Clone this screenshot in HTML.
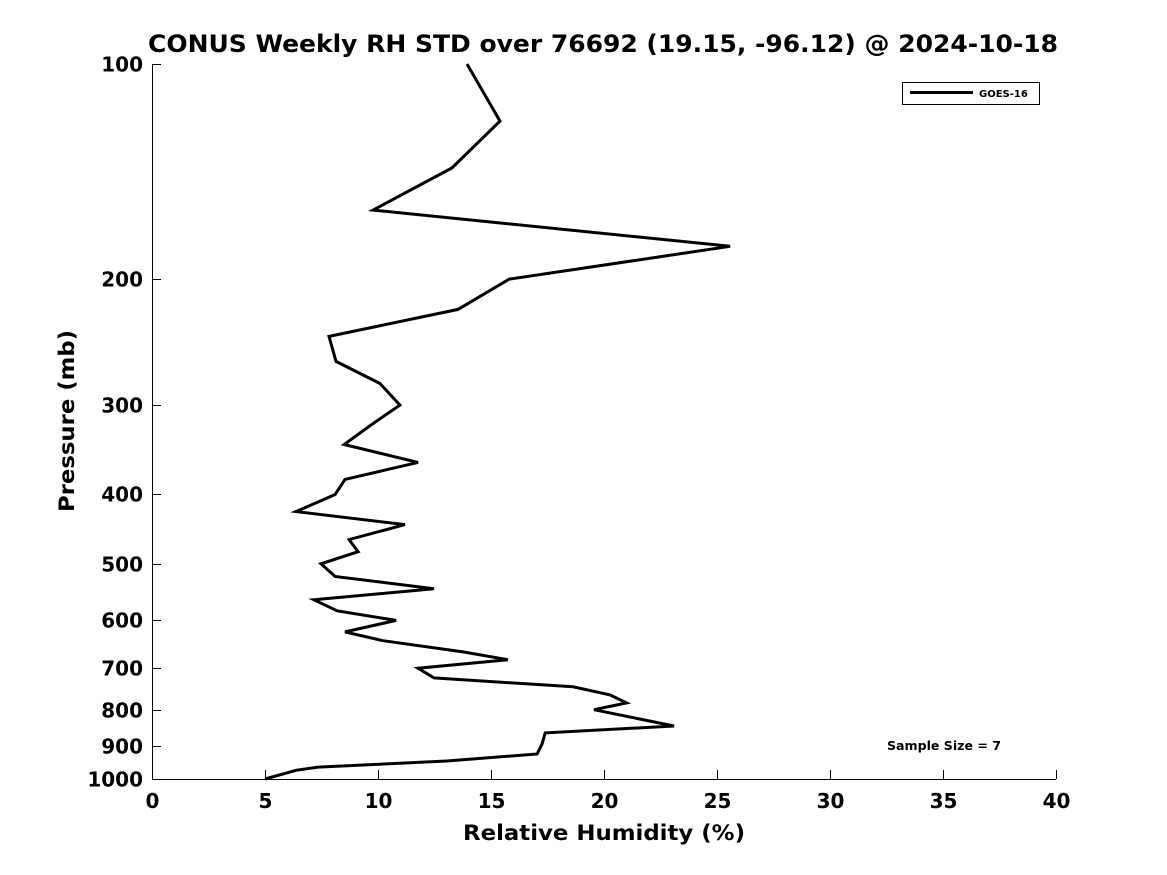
<!DOCTYPE html>
<html><head><meta charset="utf-8"><style>
body{margin:0;background:#fff;}
svg{display:block;font-family:"DejaVu Sans","Liberation Sans",sans-serif;}
</style></head><body>
<svg id="chart" width="1167" height="875">
<rect width="1167" height="875" fill="#fff"/>
<text x="603" y="52" text-anchor="middle" font-size="24" font-weight="bold" textLength="910" lengthAdjust="spacingAndGlyphs">CONUS Weekly RH STD over 76692 (19.15, -96.12) @ 2024-10-18</text>
<g id="axes"></g>
<g id="series"></g>
<g>
<rect x="902.5" y="82.5" width="137" height="22" fill="#fff" stroke="#000" stroke-width="1"/>
<line x1="910" y1="92.5" x2="973" y2="92.5" stroke="#000" stroke-width="3"/>
<text x="979" y="97" font-size="10" font-weight="bold">GOES-16</text>
</g>
<text x="944" y="750" text-anchor="middle" font-size="12" font-weight="bold" textLength="114" lengthAdjust="spacingAndGlyphs">Sample Size = 7</text>
<text x="604" y="840" text-anchor="middle" font-size="21" font-weight="bold" textLength="282" lengthAdjust="spacingAndGlyphs">Relative Humidity (%)</text>
<text transform="translate(74,421) rotate(-90)" text-anchor="middle" font-size="21" font-weight="bold" textLength="182" lengthAdjust="spacingAndGlyphs">Pressure (mb)</text>
</svg>
<script>
const pressures=[100,120.2,139.8,160.1,179.9,200,220.4,240.4,260.6,279.8,300,320.4,340.5,360.8,381,400,422.7,440.7,462.6,480.9,500,521,541.8,561.6,581.7,600,622.6,640.6,664,681,700,722,743,762.7,782.7,800,843,862,893,922.6,943.6,962.3,972,1000];
const rhValues=[13.94,15.4,13.27,9.78,25.58,15.8,13.54,7.83,8.14,10.09,10.97,9.65,8.5,11.77,8.54,8.1,6.37,11.19,8.72,9.12,7.48,8.1,12.48,7.17,8.19,10.8,8.54,10.22,13.76,15.75,11.77,12.48,18.63,20.27,21.0,19.56,23.1,17.4,17.26,17.04,13.05,7.35,6.4,5.0];
const xTicks=[0,5,10,15,20,25,30,35,40];
const yTicks=[100,200,300,400,500,600,700,800,900,1000];
const L=152,R=1056,T=64,B=779;
const xs=v=>L+(v-0)/(40-0)*(R-L);
const ys=p=>T+(Math.log10(p)-2)/(3-2)*(B-T);
const NS="http://www.w3.org/2000/svg";
const ax=document.getElementById('axes');
function mk(tag,attrs,parent){const e=document.createElementNS(NS,tag);for(const k in attrs)e.setAttribute(k,attrs[k]);parent.appendChild(e);return e;}
const xl=mk('line',{x1:L,y1:B+0.5,x2:R,y2:B+0.5,stroke:'#000','stroke-width':1},ax);


const yl=mk('line',{x1:L+0.5,y1:T,x2:L+0.5,y2:B,stroke:'#000','stroke-width':1},ax);


xTicks.forEach(v=>{
  const x=Math.round(xs(v))+0.5;
  mk('line',{x1:x,y1:B,x2:x,y2:B-9,stroke:'#000'},ax);
  const t=mk('text',{x:x,y:B+29,'text-anchor':'middle','font-size':20,'font-weight':'bold'},ax);
  t.textContent=v;
  
  
});
yTicks.forEach(p=>{
  const y=Math.round(ys(p))+0.5;
  mk('line',{x1:L,y1:y,x2:L+9,y2:y,stroke:'#000'},ax);
  const t=mk('text',{x:L-9,y:y+7,'text-anchor':'end','font-size':20,'font-weight':'bold'},ax);
  t.textContent=p;
  
  
});
const pts=rhValues.map((v,i)=>xs(v).toFixed(1)+','+ys(pressures[i]).toFixed(1)).join(' ');
const pl=mk('polyline',{points:pts,fill:'none',stroke:'#000','stroke-width':3,'stroke-linejoin':'miter'},document.getElementById('series'));


</script>
</body></html>
